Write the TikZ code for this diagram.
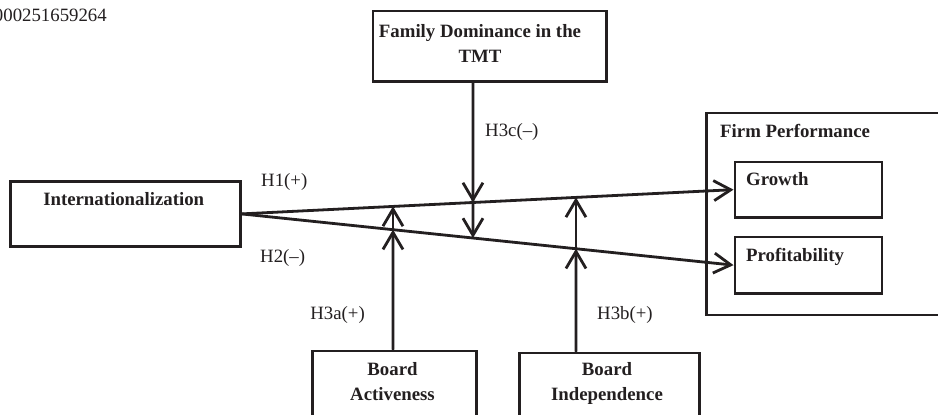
\documentclass[tikz,border=0pt]{standalone}
\usepackage{fontspec}
\setmainfont{Liberation Serif}
\usetikzlibrary{arrows.meta}
\definecolor{ink}{RGB}{35,31,32}
\begin{document}
\begin{tikzpicture}[x=1pt,y=-1pt,
  box/.style={draw=ink, line width=2.8pt, anchor=north west, inner sep=0pt},
  lbl/.style={font=\fontsize{18.8}{25}\selectfont, text=ink, inner sep=0pt},
  blbl/.style={font=\fontsize{18.8}{25}\selectfont\bfseries, text=ink, inner sep=0pt},
  conn/.style={draw=ink, line width=2.8pt, -{Straight Barb[length=17pt,width=20pt]}}]
\useasboundingbox (0,0) rectangle (938,415);
\fill[white] (0,0) rectangle (938,415);

% boxes
\node[box, minimum width=233.5pt, minimum height=70.5pt] (fam) at (371.5,9.5) {};
\node[box, minimum width=230pt, minimum height=65pt] (int) at (8.7,180) {};
\node[box, minimum width=245pt, minimum height=202pt] (fp) at (705,111.5) {};
\node[box, minimum width=147pt, minimum height=55.5pt] (gro) at (733.5,160.5) {};
\node[box, minimum width=147pt, minimum height=56.5pt] (pro) at (733.5,235.5) {};
\node[box, minimum width=164pt, minimum height=80pt] (act) at (310.7,349.5) {};
\node[box, minimum width=180pt, minimum height=80pt] (ind) at (518,351.5) {};

% box texts
\node[lbl, anchor=base east] (num) at (107,21) {000251659264};
\node[blbl, align=center, anchor=base] (famt) at (480,62) {Family Dominance in the\\TMT};
\node[blbl, anchor=base] (intt) at (123.7,205) {Internationalization};
\node[blbl, anchor=base west] (fpt) at (720,137) {Firm Performance};
\node[blbl, anchor=base west] (grot) at (746,185) {Growth};
\node[blbl, anchor=base west] (prot) at (746,261) {Profitability};
\node[blbl, align=center, anchor=base] (actt) at (392.5,400) {Board\\Activeness};
\node[blbl, align=center, anchor=base] (indt) at (607,400) {Board\\Independence};

% crossing points
\coordinate (f1) at (intersection of int.east--gro.west and 473,0--473,400);
\coordinate (f2) at (intersection of int.east--pro.west and 473,0--473,400);
\coordinate (a1) at (intersection of int.east--gro.west and 393,0--393,400);
\coordinate (a2) at (intersection of int.east--pro.west and 393,0--393,400);
\coordinate (b1) at (intersection of int.east--gro.west and 576,0--576,400);
\coordinate (b2) at (intersection of int.east--pro.west and 576,0--576,400);

% connectors
\draw[conn] (int.east) -- (gro.west);
\draw[conn] (int.east) -- (pro.west);
\draw[conn] (fam.south -| f1) -- (f1);
\draw[conn] (fam.south -| f1) -- (f2);
\draw[conn] (act.north -| a1) -- (a1);
\draw[conn] (act.north -| a1) -- (a2);
\draw[conn] (ind.north -| b1) -- (b1);
\draw[conn] (ind.north -| b1) -- (b2);

% labels
\node[lbl, anchor=base west] (h1) at (261,186) {H1(+)};
\node[lbl, anchor=base west] (h2) at (260,262) {H2(–)};
\node[lbl, anchor=base west] (h3c) at (485,136) {H3c(–)};
\node[lbl, anchor=base east] (h3a) at (365,319) {H3a(+)};
\node[lbl, anchor=base west] (h3b) at (597,319) {H3b(+)};
\end{tikzpicture}
\end{document}
